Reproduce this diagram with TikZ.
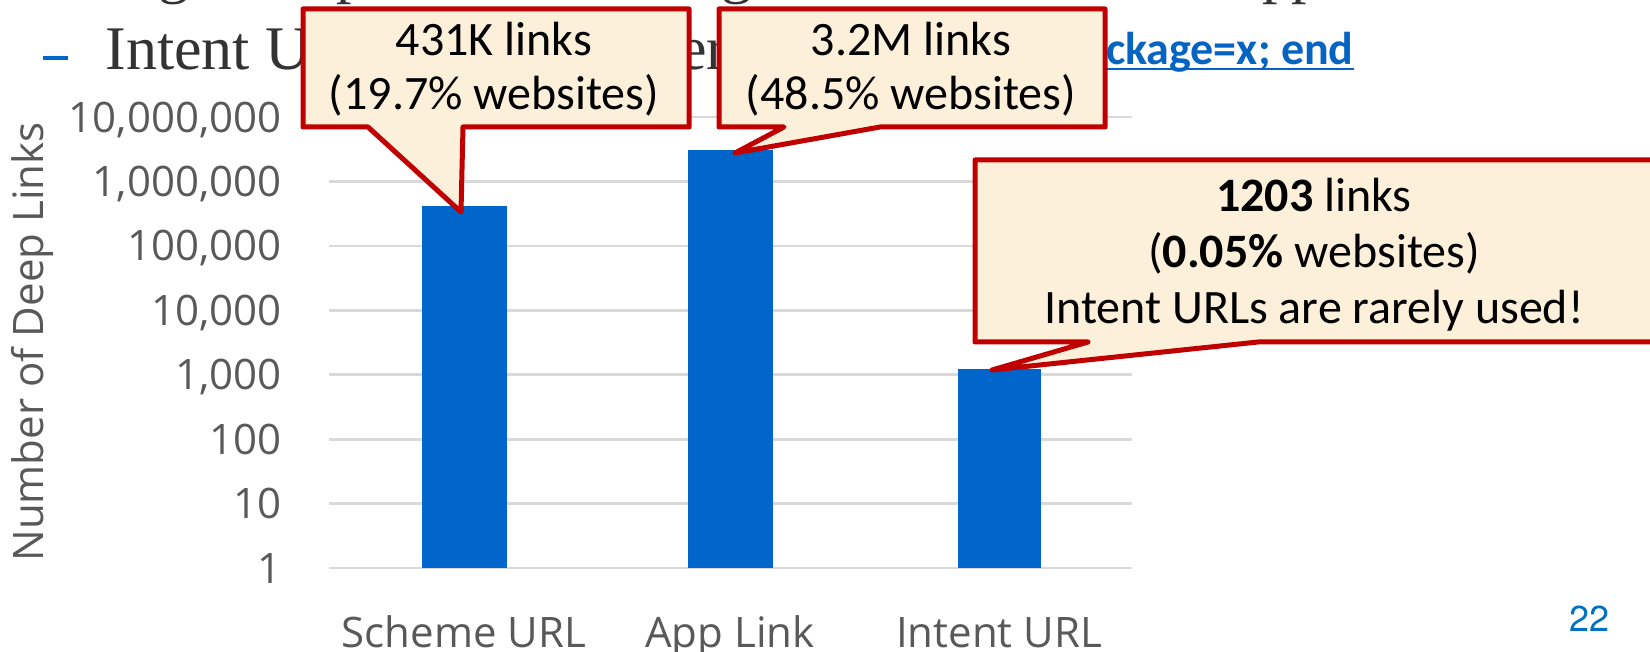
\documentclass[tikz,border=0pt]{standalone}
\usepackage{fontspec}
\newfontfamily\chartfont{Open Sans}
\newfontfamily\callfont{Carlito}
\newfontfamily\slidefont{Liberation Serif}
\newfontfamily\numfont{TeX Gyre Heros}
\definecolor{chartgray}{HTML}{595959}
\definecolor{gridgray}{HTML}{D9D9D9}
\definecolor{barblue}{HTML}{0066CC}
\definecolor{calloutred}{HTML}{C00000}
\definecolor{calloutfill}{HTML}{FDF0DA}
\definecolor{slidegray}{HTML}{333333}
\definecolor{linkblue}{HTML}{0563C1}
\definecolor{pageblue}{HTML}{0070C0}
\begin{document}
\begin{tikzpicture}[x=0.5pt,y=-0.5pt,
  ticklabel/.style={font=\chartfont\fontsize{21pt}{25pt}\selectfont, text=chartgray, anchor=base east, inner sep=0pt},
  catlabel/.style={font=\chartfont\fontsize{21pt}{25pt}\selectfont, text=chartgray, anchor=base, inner sep=0pt},
  gridline/.style={draw=gridgray, line width=1.3pt},
  barbox/.style={fill=barblue, draw=none},
  callout/.style={draw=calloutred, fill=calloutfill, line width=2.5pt, line join=round},
  calltext/.style={font=\callfont\fontsize{24pt}{28pt}\selectfont, anchor=base, inner sep=0pt, text=black},
  slidetext/.style={font=\slidefont\fontsize{31pt}{36pt}\selectfont, text=slidegray, inner sep=0pt},
]
\useasboundingbox (0,0) rectangle (1650,652);
% cut-off line at top (descenders only)
\node[slidetext, anchor=base] (d1) at (174,-8) {g};
\node[slidetext, anchor=base] (d2) at (352,-8) {p};
\node[slidetext, anchor=base] (d3) at (737,-8) {g};
\node[slidetext, anchor=base] (d4) at (1278,-8) {p};
\node[slidetext, anchor=base] (d5) at (1307,-8) {p};
% bullet line
\coordinate (dashA) at (43,58);
\coordinate (dashB) at (68,58);
\draw[barblue, line width=2pt] (dashA) -- (dashB);
\node[slidetext, anchor=base west] (bullet) at (105,70) {Intent URLs};
\node[slidetext, anchor=base west] (er) at (679,70) {er};
\node[font=\callfont\bfseries\fontsize{23pt}{27pt}\selectfont, text=linkblue, anchor=base east, inner sep=0pt] (link) at (1354,65) {package=x; end};
\draw[linkblue, line width=1.4pt] ([yshift=-2pt]link.base west) -- ([yshift=-2pt]link.base east);
% gridlines
\foreach \i/\lab in {0/1,1/10,2/100,3/{1,000},4/{10,000},5/{100,000},6/{1,000,000},7/{10,000,000}}{
  \coordinate (gl\i) at (329,{568-64.4*\i});
  \coordinate (gr\i) at (1132,{568-64.4*\i});
  \draw[gridline] (gl\i) -- (gr\i);
  \node[ticklabel] (tick\i) at (282,{583-64.4*\i}) {\lab};
}
% bars
\fill[barblue] (422,568) rectangle (507,206);
\fill[barblue] (688,568) rectangle (773,150);
\fill[barblue] (958,568) rectangle (1041,369);
\node[catlabel] (cat1) at (464,647) {Scheme URL};
\node[catlabel] (cat2) at (730,647) {App Link};
\node[catlabel] (cat3) at (999,647) {Intent URL};
\node[font=\chartfont\fontsize{21pt}{25pt}\selectfont, text=chartgray, rotate=90, anchor=base, inner sep=0pt] (ytitle) at (43,342) {Number of Deep Links};
% callouts
\draw[callout] (303,9) -- (689,9) -- (689,127) -- (463,127) -- (461,212) -- (368,127) -- (303,127) -- cycle;
\node[calltext] (c1a) at (494,56) {431K links};
\node[calltext] (c1b) at (494,110) {(19.7\% websites)};
\draw[callout] (719,9) -- (1105,9) -- (1105,127) -- (880,127) -- (735,153) -- (784,127) -- (719,127) -- cycle;
\node[calltext] (c2a) at (911,56) {3.2M links};
\node[calltext] (c2b) at (911,110) {(48.5\% websites)};
\draw[callout] (975,160) -- (1680,160) -- (1680,342) -- (1258,342) -- (992,370) -- (1088,342) -- (975,342) -- cycle;
\node[calltext] (c3a) at (1314,212) {\textbf{1203} links};
\node[calltext] (c3b) at (1314,268) {(\textbf{0.05\%} websites)};
\node[calltext] (c3c) at (1314,324) {Intent URLs are rarely used!};
% page number
\node[font=\numfont\fontsize{18pt}{22pt}\selectfont, text=pageblue, anchor=base east, inner sep=0pt] (pnum) at (1610,631) {22};
\end{tikzpicture}
\end{document}
